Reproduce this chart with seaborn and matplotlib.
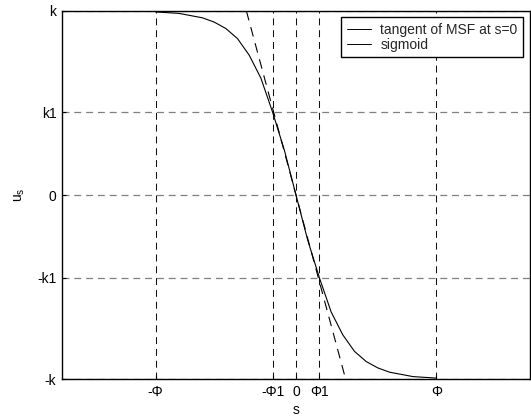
import matplotlib
matplotlib.use("Agg")
import matplotlib.pyplot as plt
from matplotlib.lines import Line2D
import numpy as np
import pandas as pd
import seaborn as sns

# ---- data ----
sigmoid_s = [-3.0, -2.5, -2.0, -1.75, -1.5, -1.25, -1.0, -0.75, -0.5, -0.25, 0.0,
             0.25, 0.5, 0.75, 1.0, 1.25, 1.5, 1.75, 2.0, 2.5, 3.0]
sigmoid_u = [0.995, 0.987, 0.963, 0.94, 0.905, 0.85, 0.76, 0.635, 0.45, 0.245, 0.0,
             -0.245, -0.45, -0.635, -0.76, -0.85, -0.905, -0.94, -0.963, -0.987, -0.995]
tangent_s = [-1.06, 1.06]
tangent_u = [1.0, -1.0]

x_ticks = [-3.0, -0.5, 0.0, 0.5, 3.0]
x_tick_labels = ["-Φ", "-Φ1", "0", "Φ1", "Φ"]
y_ticks = [-1.0, -0.45, 0.0, 0.45, 1.0]
y_tick_labels = ["-k", "-k1", "0", "k1", "k"]
legend_labels = ["tangent of MSF at s=0", "sigmoid"]

sns.set_theme(style="white")
plt.rcParams["font.family"] = ["Liberation Sans", "DejaVu Sans"]
plt.rcParams["lines.scale_dashes"] = False

FS = 10

fig = plt.figure(figsize=(5.31, 4.19), dpi=100)
ax = fig.add_axes([62 / 531, 40 / 419, 468 / 531, 368 / 419])

df_sig = pd.DataFrame({"s": sigmoid_s, "u": sigmoid_u})
df_tan = pd.DataFrame({"s": tangent_s, "u": tangent_u})

sns.lineplot(data=df_tan, x="s", y="u", ax=ax, color="black", linewidth=0.8,
             sort=False, estimator=None)
ax.lines[-1].set_dashes([7, 5])
sns.lineplot(data=df_sig, x="s", y="u", ax=ax, color="black", linewidth=0.8,
             sort=False, estimator=None)

ax.set_xlim(-5, 5)
ax.set_ylim(-1, 1)
ax.set_xticks(x_ticks)
ax.set_xticklabels(x_tick_labels)
ax.set_yticks(y_ticks)
ax.set_yticklabels(y_tick_labels)

# grid: vertical dashed black, horizontal dashed gray
for xv in x_ticks:
    ax.axvline(xv, color="#111111", linewidth=0.75, dashes=(5, 3.5), zorder=0)
for yv in y_ticks:
    ax.axhline(yv, color="#808080", linewidth=0.9, dashes=(5, 3.5), zorder=0)

for sp in ax.spines.values():
    sp.set_color("black")
    sp.set_linewidth(1.0)
    sp.set_visible(True)

ax.tick_params(axis="both", direction="in", length=3, width=0.8, color="black",
               labelsize=FS, labelcolor="black", pad=4, bottom=True, left=True,
               top=False, right=False)

ax.set_xlabel("s", fontsize=FS, color="black", labelpad=3)
ax.set_ylabel(r"$\mathregular{u_s}$", fontsize=FS, color="black", labelpad=7)

handles = [Line2D([0], [0], color="black", linewidth=0.7),
           Line2D([0], [0], color="black", linewidth=0.7)]
leg = ax.legend(handles, legend_labels, loc="upper right",
                bbox_to_anchor=(461 / 468, 1 - 6 / 368), fontsize=FS,
                frameon=True, fancybox=False, edgecolor="black", framealpha=1,
                borderpad=0.4, labelspacing=0.1, handlelength=1.75,
                handletextpad=0.65, borderaxespad=0.0)
leg.get_frame().set_linewidth(1.0)

fig.savefig("out.png", dpi=100)
